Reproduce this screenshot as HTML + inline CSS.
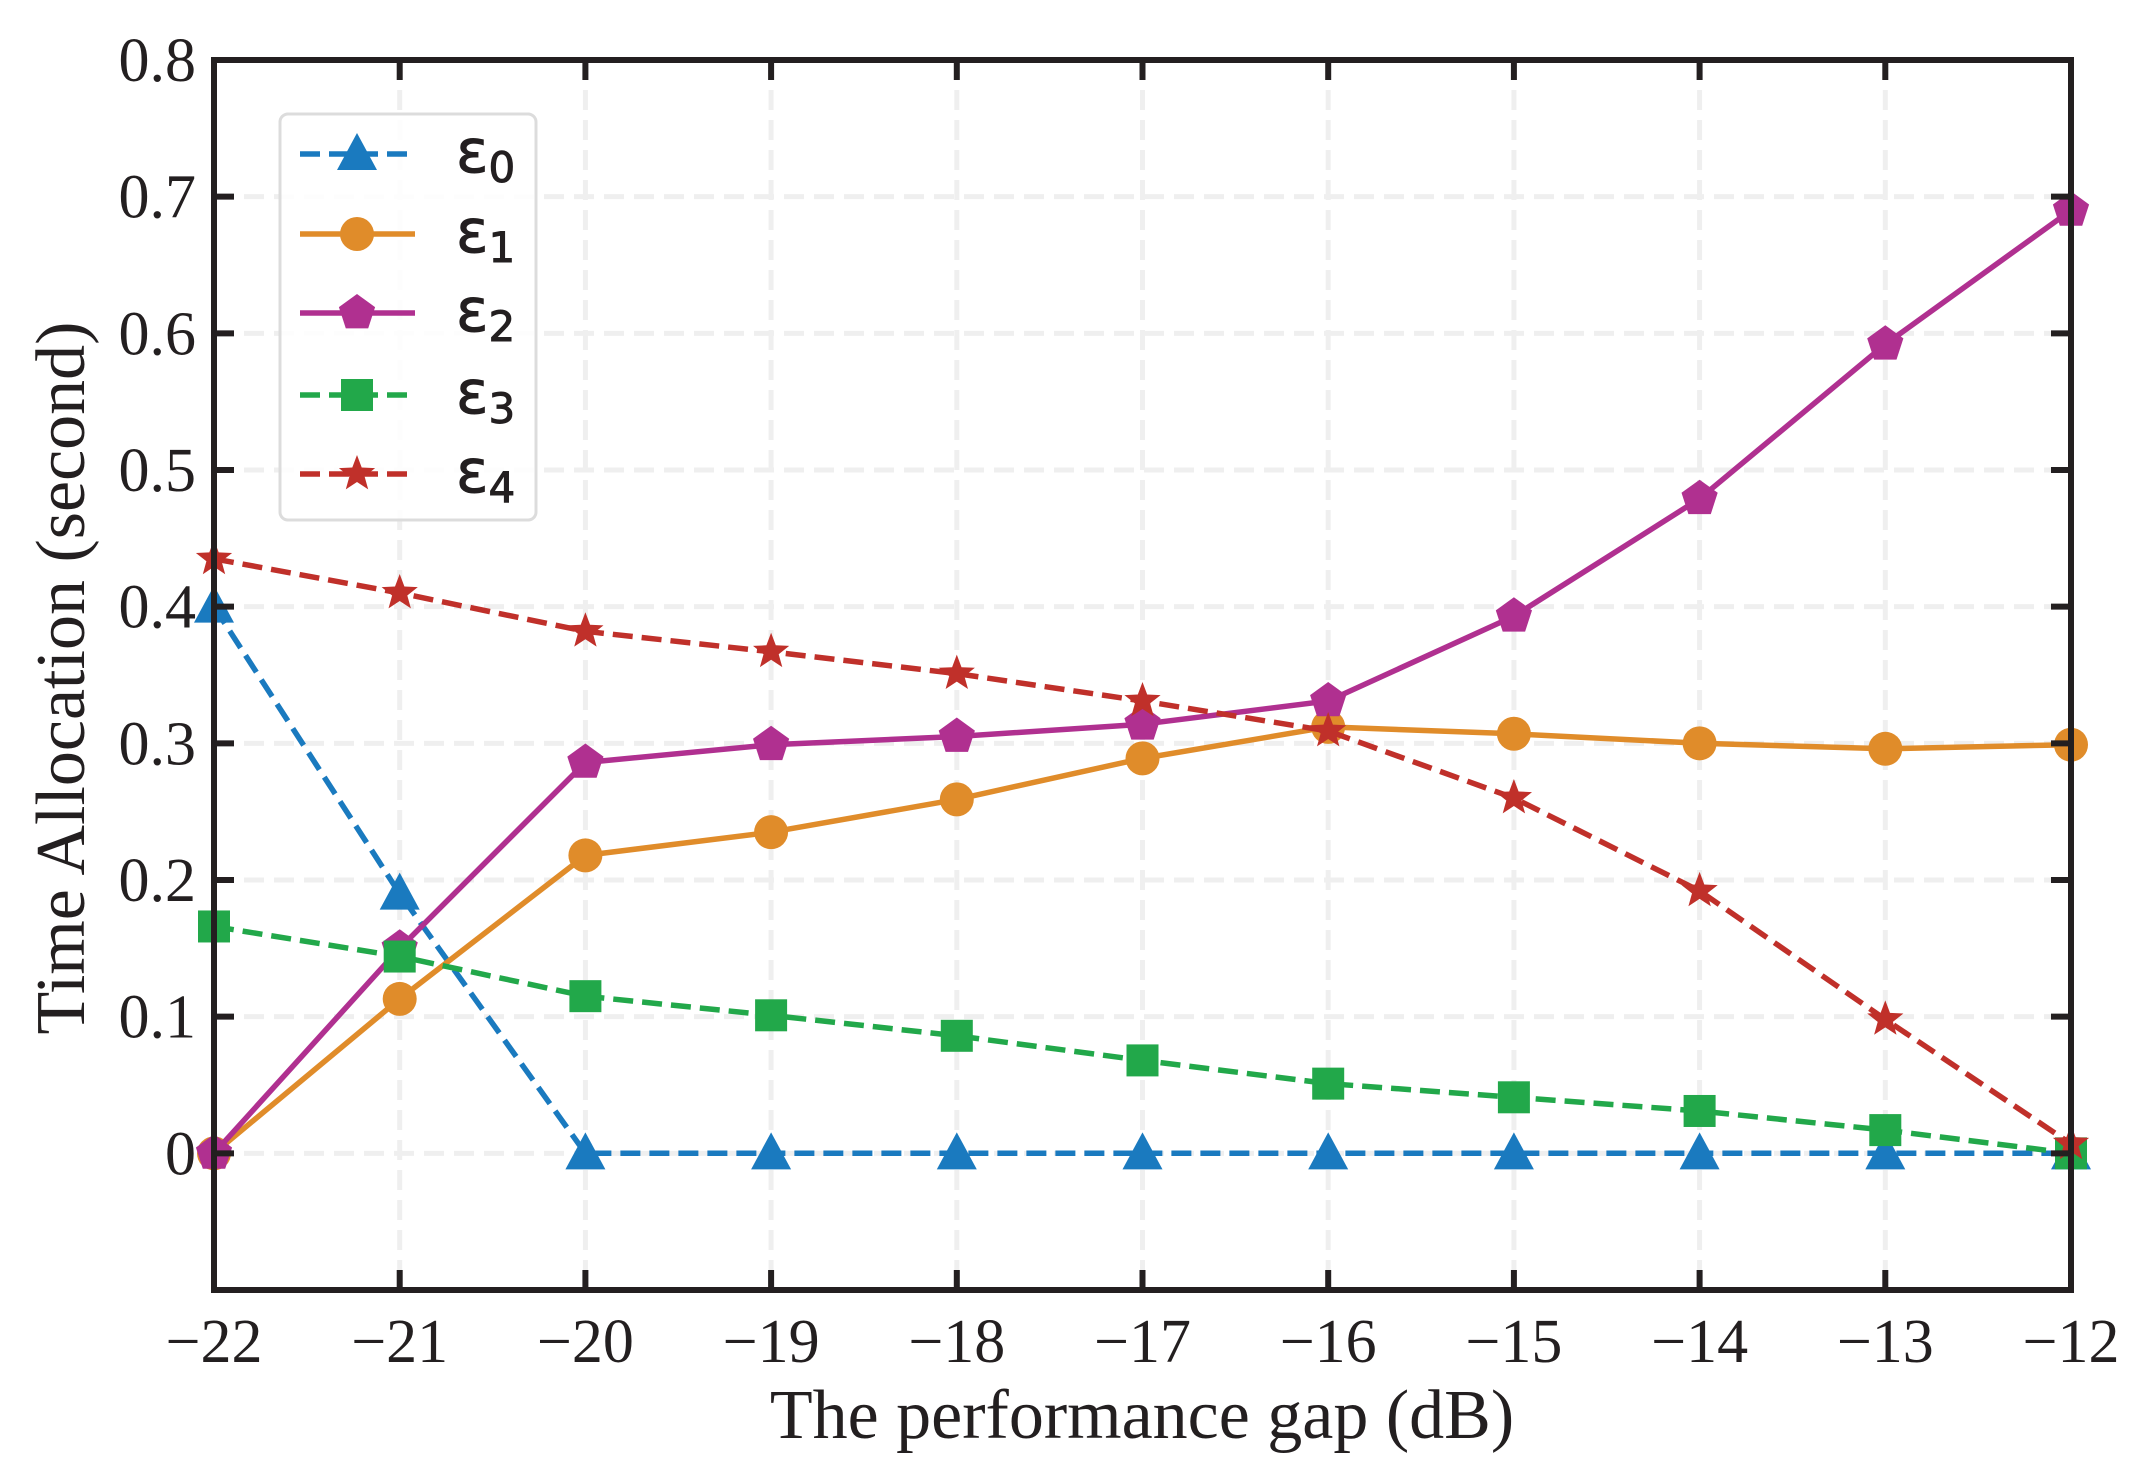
<!DOCTYPE html>
<html><head><meta charset="utf-8"><style>
html,body{margin:0;padding:0;background:#fff;}
svg{display:block;}
</style></head><body>
<svg id="chart" width="2135" height="1470" viewBox="0 0 2135 1470" xmlns="http://www.w3.org/2000/svg">
<g id="grid"></g>
<g id="series"></g>
<rect x="214" y="60" width="1857" height="1230" fill="none" stroke="#231f20" stroke-width="6"/>
<g id="ticks"></g>
<text x="1142" y="1438" font-family="Liberation Serif, serif" font-size="70" text-anchor="middle" fill="#231f20">The performance gap (dB)</text>
<text transform="translate(84,678) rotate(-90)" font-family="Liberation Serif, serif" font-size="70" text-anchor="middle" fill="#231f20">Time Allocation (second)</text>
<g id="legend">
<rect x="280" y="114" width="256" height="406" rx="8" fill="#fff" fill-opacity="0.85" stroke="#dcdcdc" stroke-width="3"/>
</g>
</svg>
<script>
const xCats = [-22,-21,-20,-19,-18,-17,-16,-15,-14,-13,-12];
const e0 = [0.4,0.19,0,0,0,0,0,0,0,0,0];
const e1 = [0,0.113,0.218,0.235,0.259,0.289,0.312,0.307,0.3,0.296,0.299];
const e2 = [0,0.15,0.286,0.299,0.305,0.314,0.331,0.393,0.479,0.592,0.69];
const e3 = [0.166,0.144,0.115,0.101,0.086,0.068,0.051,0.041,0.031,0.017,0];
const e4 = [0.435,0.41,0.382,0.367,0.351,0.331,0.309,0.26,0.192,0.098,0.007];
const yTicks = [-0.1,0,0.1,0.2,0.3,0.4,0.5,0.6,0.7,0.8];
const yTickLabels = ["","0","0.1","0.2","0.3","0.4","0.5","0.6","0.7","0.8"];
const xTickLabels = ["\u221222","\u221221","\u221220","\u221219","\u221218","\u221217","\u221216","\u221215","\u221214","\u221213","\u221212"];
const seriesNames = ["\u03b5","\u03b5","\u03b5","\u03b5","\u03b5"];

const L=214,R=2071,T=60,B=1290;
function xs(v){return L+(v-(-22))/10*(R-L);}
function ys(v){return B-(v-(-0.1))/0.9*(B-T);}
const NS="http://www.w3.org/2000/svg";
function mk(tag,attrs,parent){const e=document.createElementNS(NS,tag);for(const k in attrs)e.setAttribute(k,attrs[k]);parent.appendChild(e);return e;}
const grid=document.getElementById('grid'),ticks=document.getElementById('ticks'),ser=document.getElementById('series'),leg=document.getElementById('legend');

xCats.forEach((c,i)=>{
  const x=xs(c);
  const g=mk('line',{x1:x,x2:x,y1:T,y2:B,stroke:'#efefef','stroke-width':5,'stroke-dasharray':'20 10'},grid);
  
  
  const t1=mk('line',{x1:x,x2:x,y1:B,y2:B-20,stroke:'#231f20','stroke-width':6},ticks);
  
  
  const t2=mk('line',{x1:x,x2:x,y1:T,y2:T+20,stroke:'#231f20','stroke-width':6},ticks);
  
  
  const lb=mk('text',{x:x,y:B+72,'font-family':'Liberation Serif, serif','font-size':62,'text-anchor':'middle',fill:'#231f20'},ticks);
  lb.textContent=xTickLabels[i];
  
  
});
yTicks.forEach((v,i)=>{
  const y=ys(v);
  const g=mk('line',{x1:L,x2:R,y1:y,y2:y,stroke:'#efefef','stroke-width':5,'stroke-dasharray':'20 10'},grid);
  
  
  const t1=mk('line',{x1:L,x2:L+20,y1:y,y2:y,stroke:'#231f20','stroke-width':6},ticks);
  
  
  const t2=mk('line',{x1:R,x2:R-20,y1:y,y2:y,stroke:'#231f20','stroke-width':6},ticks);
  
  
  if(yTickLabels[i]){
    const lb=mk('text',{x:L-18,y:y+21,'font-family':'Liberation Serif, serif','font-size':62,'text-anchor':'end',fill:'#231f20'},ticks);
    lb.textContent=yTickLabels[i];
    
    
  }
});

function marker(kind,x,y,color,parent){
  let e;
  if(kind==='tri'){e=mk('polygon',{points:`${x},${y-21} ${x-20},${y+16} ${x+20},${y+16}`,fill:color},parent);}
  else if(kind==='circ'){e=mk('circle',{cx:x,cy:y,r:17,fill:color},parent);}
  else if(kind==='pent'){let p=[];for(let k=0;k<5;k++){const a=-Math.PI/2+k*2*Math.PI/5;p.push((x+19*Math.cos(a)).toFixed(1)+','+(y+19*Math.sin(a)).toFixed(1));}e=mk('polygon',{points:p.join(' '),fill:color},parent);}
  else if(kind==='sq'){e=mk('rect',{x:x-16,y:y-16,width:32,height:32,fill:color},parent);}
  else {let p=[];for(let k=0;k<10;k++){const a=-Math.PI/2+k*Math.PI/5;const r=k%2?8:19;p.push((x+r*Math.cos(a)).toFixed(1)+','+(y+r*Math.sin(a)).toFixed(1));}e=mk('polygon',{points:p.join(' '),fill:color},parent);}
  return e;
}
const defs=[
 {d:e0,c:'#1a7abf',m:'tri',dash:'20 9',n:'epsilon-0'},
 {d:e1,c:'#e08c2a',m:'circ',dash:'',n:'epsilon-1'},
 {d:e2,c:'#b03090',m:'pent',dash:'',n:'epsilon-2'},
 {d:e3,c:'#22a84a',m:'sq',dash:'20 9',n:'epsilon-3'},
 {d:e4,c:'#c0302a',m:'star',dash:'20 9',n:'epsilon-4'}
];
const legY=[154,234,313,395,474];
defs.forEach((s,si)=>{
  const g=mk('g',{},ser);
  
  
  const pts=s.d.map((v,i)=>xs(xCats[i]).toFixed(1)+','+ys(v).toFixed(1)).join(' ');
  const pl=mk('polyline',{points:pts,fill:'none',stroke:s.c,'stroke-width':5.5,'stroke-dasharray':s.dash},g);
  
  
  s.d.forEach((v,i)=>{
    const m=marker(s.m,xs(xCats[i]),ys(v),s.c,g);
    
    
  });
  const lg=mk('g',{},leg);
  
  
  const y=legY[si];
  mk('line',{x1:300,x2:415,y1:y,y2:y,stroke:s.c,'stroke-width':5.5,'stroke-dasharray':s.dash?'20 9':''},lg);
  marker(s.m,357,y,s.c,lg);
  const tx=mk('text',{x:456,y:y+18,'font-family':'DejaVu Sans, sans-serif','font-size':60,fill:'#231f20',stroke:'#231f20','stroke-width':1},lg);
  tx.textContent=seriesNames[si];
  const sub=mk('tspan',{'font-size':42,dy:10},tx);
  sub.textContent=String(si);
});
</script>
</body></html>
